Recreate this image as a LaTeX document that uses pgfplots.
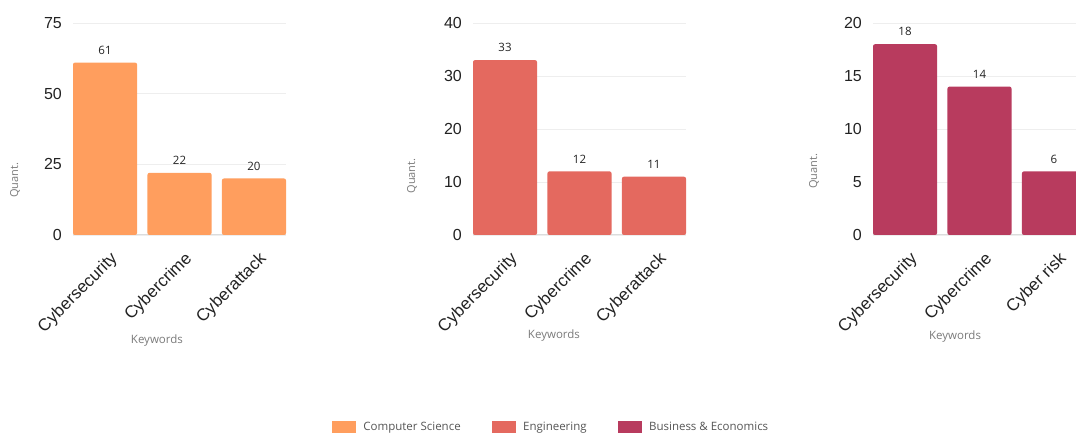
\documentclass[border=0pt]{standalone}
\usepackage{fontspec}
\setmainfont{Liberation Sans}
\newfontfamily\osans{Open Sans}
\usepackage{pgfplots}
\pgfplotsset{compat=1.18}

\definecolor{cs}{HTML}{FF9E5E}
\definecolor{eng}{HTML}{E4695F}
\definecolor{bus}{HTML}{B83B5E}
\definecolor{gridc}{HTML}{EEEEEE}
\definecolor{basec}{HTML}{DCDCDC}
\definecolor{txt}{HTML}{222222}
\definecolor{lbl}{HTML}{7A7A7A}
\definecolor{legtxt}{HTML}{555555}

\pgfplotsset{
  kw/.style={
    scale only axis, width=213pt, height=212pt, anchor=south west,
    ybar, bar width=0.86, xmin=-0.43, xmax=2.43, ymin=0,
    xtick=data, axis line style={draw=none}, major tick length=0pt,
    ymajorgrids, grid style={gridc, line width=0.8pt},
    extra y ticks={0}, extra y tick labels={},
    extra y tick style={grid style={basec, line width=1pt}},
    /pgf/number format/assume math mode=true,
    yticklabel style={font=\fontsize{16}{16}\selectfont, text=txt,
      inner sep=0pt, xshift=-11pt},
    % shifts act in the rotated frame of the label
    xticklabel style={font=\fontsize{17}{17}\selectfont, text=txt,
      rotate=45, anchor=north east, inner sep=0pt, xshift=-8pt, yshift=-14pt},
    nodes near coords,
    every node near coord/.append style={font=\osans\fontsize{11.5}{12}\selectfont,
      text=txt, anchor=south, inner sep=0pt, yshift=8pt},
    xlabel=Keywords, ylabel=Quant.,
    every axis x label/.style={font=\osans\fontsize{11.5}{12}\selectfont,
      text=lbl, anchor=center},
    every axis y label/.style={font=\osans\fontsize{11}{11}\selectfont,
      text=lbl, rotate=90, anchor=center},
    clip=false,
  },
  legbox/.style={legend image code/.code={\fill[#1] (0pt,-5.5pt) rectangle (23pt,5.5pt);}},
}

\begin{document}
\begin{tikzpicture}
\useasboundingbox (0,0) rectangle (1076pt,435pt);

% Computer Science
\begin{axis}[kw, at={(73pt,200pt)}, ymax=75, ytick={0,25,50,75},
  xticklabels={Cybersecurity,Cybercrime,Cyberattack},
  xlabel style={at={(axis description cs:0.394,-0.5)}},
  ylabel style={at={(axis description cs:-0.272,0.259)}}]
\addplot[fill=cs, draw=none, rounded corners=2pt] coordinates {(0,61) (1,22) (2,20)};
\end{axis}

% Engineering
\begin{axis}[kw, at={(473pt,200pt)}, ymax=40, ytick={0,10,20,30,40},
  xticklabels={Cybersecurity,Cybercrime,Cyberattack},
  xlabel style={at={(axis description cs:0.38,-0.476)}},
  ylabel style={at={(axis description cs:-0.286,0.278)}},
  legend columns=3,
  legend style={at={(axis description cs:0.362,-0.906)}, anchor=center,
    draw=none, fill=none, font=\osans\fontsize{11.5}{12}\selectfont, text=legtxt,
    nodes={inner sep=0pt},
    /tikz/every odd column/.append style={column sep=8pt},
    /tikz/every even column/.append style={column sep=31pt}}]
\addlegendimage{legbox=cs}
\addlegendimage{legbox=eng}
\addlegendimage{legbox=bus}
\addplot[fill=eng, draw=none, rounded corners=2pt] coordinates {(0,33) (1,12) (2,11)};
\legend{Computer Science, Engineering, Business \& Economics}
\end{axis}

% Business & Economics
\begin{axis}[kw, at={(873pt,200pt)}, ymax=20, ytick={0,5,10,15,20},
  xticklabels={Cybersecurity,Cybercrime,Cyber risk},
  xlabel style={at={(axis description cs:0.385,-0.48)}},
  ylabel style={at={(axis description cs:-0.277,0.30)}}]
\addplot[fill=bus, draw=none, rounded corners=2pt] coordinates {(0,18) (1,14) (2,6)};
\end{axis}
\end{tikzpicture}
\end{document}
